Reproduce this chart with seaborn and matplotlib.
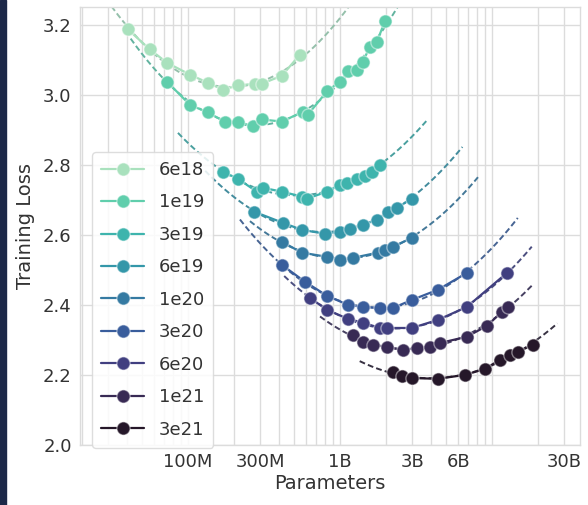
import numpy as np
import pandas as pd
import seaborn as sns
import matplotlib
matplotlib.use("Agg")
import matplotlib.pyplot as plt
from matplotlib.ticker import FixedLocator, LogLocator, NullFormatter, FixedFormatter
from matplotlib.patches import Rectangle

# ---- data (parameters in millions, training loss) ----
budgets = ["6e18", "1e19", "3e19", "6e19", "1e20", "3e20", "6e20", "1e21", "3e21"]

params_6e18 = [40.3, 56.2, 72.8, 103, 135, 170, 213, 276, 307, 415, 546]
loss_6e18 = [3.186, 3.129, 3.091, 3.057, 3.034, 3.014, 3.026, 3.031, 3.031, 3.054, 3.114]

params_1e19 = [72.8, 103, 135, 175, 213, 268, 307, 415, 571, 616, 821, 1000, 1129, 1294, 1417, 1576, 1751, 1978]
loss_1e19 = [3.037, 2.971, 2.949, 2.923, 2.923, 2.909, 2.929, 2.923, 2.951, 2.943, 3.009, 3.037, 3.066, 3.071, 3.094, 3.137, 3.151, 3.209]

params_3e19 = [170, 213, 284, 311, 415, 562, 607, 821, 1000, 1112, 1294, 1460, 1624, 1833]
loss_3e19 = [2.780, 2.760, 2.723, 2.734, 2.723, 2.709, 2.703, 2.723, 2.743, 2.749, 2.760, 2.769, 2.780, 2.800]

params_6e19 = [272, 422, 562, 797, 1000, 1163, 1417, 1751, 2069, 2371, 2977]
loss_6e19 = [2.666, 2.634, 2.614, 2.603, 2.609, 2.617, 2.629, 2.643, 2.666, 2.677, 2.703]

params_1e20 = [415, 562, 821, 1000, 1218, 1778, 1978, 2232, 2977]
loss_1e20 = [2.580, 2.549, 2.537, 2.529, 2.534, 2.549, 2.557, 2.566, 2.591]

params_3e20 = [415, 589, 821, 1129, 1417, 1833, 2232, 2977, 4412, 6846]
loss_3e20 = [2.514, 2.466, 2.426, 2.400, 2.394, 2.391, 2.391, 2.414, 2.443, 2.491]

params_6e20 = [635, 821, 1129, 1417, 1833, 2038, 2977, 4412, 6846, 12550]
loss_6e20 = [2.420, 2.386, 2.360, 2.349, 2.334, 2.334, 2.334, 2.357, 2.394, 2.491]

params_1e21 = [1218, 1417, 1649, 2038, 2597, 3210, 3909, 4549, 6846, 9271, 11636, 12748]
loss_1e21 = [2.314, 2.294, 2.286, 2.280, 2.271, 2.277, 2.280, 2.291, 2.309, 2.340, 2.380, 2.394]

params_3e21 = [2232, 2558, 2977, 4412, 6644, 8994, 11288, 13134, 14834, 18607]
loss_3e21 = [2.209, 2.197, 2.191, 2.189, 2.200, 2.217, 2.243, 2.257, 2.266, 2.286]

# extent of the dashed parabola fits (millions of parameters)
fit_lo = [26, 42, 86, 130, 256, 220, 430, 740, 1350]
fit_hi = [1160, 2500, 3700, 6400, 8100, 14800, 18300, 18300, 27000]

xtick_values = [1e8, 3e8, 1e9, 3e9, 6e9, 3e10]
xtick_labels = ["100M", "300M", "1B", "3B", "6B", "30B"]
ytick_values = [2.0, 2.2, 2.4, 2.6, 2.8, 3.0, 3.2]

all_params = [params_6e18, params_1e19, params_3e19, params_6e19, params_1e20,
              params_3e20, params_6e20, params_1e21, params_3e21]
all_loss = [loss_6e18, loss_1e19, loss_3e19, loss_6e19, loss_1e20,
            loss_3e20, loss_6e20, loss_1e21, loss_3e21]

# ---- style ----
sns.set_theme(style="whitegrid")
plt.rcParams["font.family"] = ["DejaVu Sans"]
colors = sns.color_palette("mako_r", len(budgets))

fig = plt.figure(figsize=(5.88, 5.05), dpi=100)
ax = fig.add_axes([80 / 588, 60 / 505, 500 / 588, 438 / 505])
fig.patches.append(Rectangle((0, 0), 6 / 588, 1, transform=fig.transFigure,
                             color="#1c2848", zorder=10))

for i, b in enumerate(budgets):
    c = colors[i]
    n = np.array(all_params[i], dtype=float) * 1e6
    l = np.array(all_loss[i], dtype=float)
    # quadratic fit in log-parameter space
    coef = np.polyfit(np.log10(n), l, 2)
    xf = np.logspace(np.log10(fit_lo[i] * 1e6), np.log10(fit_hi[i] * 1e6), 200)
    yf = np.polyval(coef, np.log10(xf))
    fit_color = tuple(0.7 * np.array(c) + 0.3 * np.array([0.4, 0.45, 0.5]))
    sns.lineplot(x=xf, y=yf, ax=ax, color=fit_color, linestyle=(0, (3, 1.6)),
                 linewidth=1.4, legend=False, zorder=2)
    df = pd.DataFrame({"Parameters": n, "Loss": l})
    sns.lineplot(data=df, x="Parameters", y="Loss", ax=ax, color=c, marker="o",
                 markersize=9.5, linewidth=1.6, label=b, zorder=3,
                 markeredgecolor=(1, 1, 1, 0.45), markeredgewidth=1.0)

ax.set_xscale("log")
ax.set_xlim(1.95e7, 3.8e10)
ax.set_ylim(2.0, 3.25)
ax.xaxis.set_major_locator(FixedLocator(xtick_values))
ax.xaxis.set_major_formatter(FixedFormatter(xtick_labels))
ax.xaxis.set_minor_locator(LogLocator(base=10, subs=np.arange(1, 10), numticks=20))
ax.xaxis.set_minor_formatter(NullFormatter())
ax.set_yticks(ytick_values)
ax.set_yticklabels([f"{v:.1f}" for v in ytick_values])
ax.grid(True, which="both", axis="x", color="#dcdcdc", linewidth=1.0)
ax.grid(True, which="major", axis="y", color="#dcdcdc", linewidth=1.0)
ax.tick_params(axis="both", which="both", length=0, labelsize=13, colors="#333333", pad=6)
for s in ax.spines.values():
    s.set_color("#dcdcdc")
    s.set_linewidth(1.0)

ax.set_xlabel("Parameters", fontsize=14, color="#333333", labelpad=2)
ax.set_ylabel("Training Loss", fontsize=14, color="#333333", labelpad=6)

leg = ax.legend(loc="upper left", bbox_to_anchor=(0.024, 0.669), borderaxespad=0,
                fontsize=13, labelspacing=0.8, handlelength=2.4, frameon=True,
                framealpha=0.85, edgecolor="#d8d8d8", borderpad=0.5)
for t in leg.get_texts():
    t.set_color("#333333")

fig.savefig("out.png", dpi=100)
